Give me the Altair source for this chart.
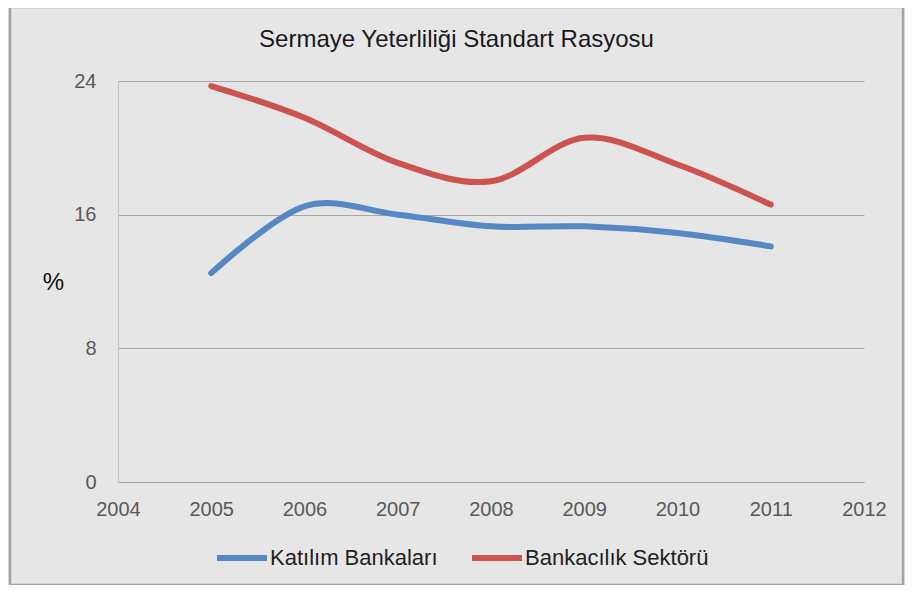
import altair as alt
import pandas as pd

# ---- data ----
years = [2005, 2006, 2007, 2008, 2009, 2010, 2011]
katilim_bankalari = [12.5, 16.5, 16.0, 15.3, 15.3, 14.9, 14.1]
bankacilik_sektoru = [23.7, 21.8, 19.1, 18.0, 20.6, 19.0, 16.6]
series_names = ["Katılım Bankaları", "Bankacılık Sektörü"]
series_colors = ["#5688c4", "#cc5350"]
x_ticks = [2004, 2005, 2006, 2007, 2008, 2009, 2010, 2011, 2012]
y_ticks = [0, 8, 16, 24]
title_text = "Sermaye Yeterliliği Standart Rasyosu"
y_title = "%"

rows = []
for name, vals in zip(series_names, [katilim_bankalari, bankacilik_sektoru]):
    for yr, v in zip(years, vals):
        rows.append({"yil": yr, "deger": v, "seri": name})
df = pd.DataFrame(rows)

W, H = 746, 401
FONT = "Liberation Sans"

frame = alt.Chart(pd.DataFrame({"k": [0]})).mark_rect(
    fill="transparent", stroke="#a3a3a3", strokeWidth=2.5
).encode(
    x=alt.value(-108), x2=alt.value(785), y=alt.value(-74), y2=alt.value(504)
)

lines = alt.Chart(df).mark_line(
    strokeWidth=6, interpolate="cardinal", strokeCap="round"
).encode(
    x=alt.X(
        "yil:Q",
        scale=alt.Scale(domain=[2004, 2012], nice=False, zero=False),
        axis=alt.Axis(
            values=x_ticks, format="d", title=None, grid=False, ticks=False,
            tickSize=0, labelPadding=17, labelFlush=False, labelOverlap=False,
            domainColor="#a6a6a6", labelFontSize=20, labelColor="#595959",
            labelFont=FONT,
        ),
    ),
    y=alt.Y(
        "deger:Q",
        scale=alt.Scale(domain=[0, 24], nice=False),
        axis=alt.Axis(
            values=y_ticks, title=y_title, titleAngle=0, titleX=-65, titleY=201,
            titleAlign="center", titleBaseline="middle", titleFontSize=24,
            titleFontWeight="normal", titleColor="#111111", titleFont=FONT,
            grid=True, gridColor="#a6a6a6", ticks=False, tickSize=0,
            labelPadding=22, labelOverlap=False, domainColor="#c4c4c4",
            labelFontSize=20, labelColor="#595959", labelFont=FONT,
        ),
    ),
    color=alt.Color(
        "seri:N",
        scale=alt.Scale(domain=series_names, range=series_colors),
        legend=alt.Legend(
            title=None, orient="none", legendX=96, legendY=449,
            direction="horizontal", symbolType="stroke", symbolSize=2500,
            symbolStrokeWidth=6, labelFontSize=22, labelFont=FONT,
            labelColor="#222222", labelOffset=0, labelLimit=400,
            columnPadding=22, padding=0,
        ),
    ),
)

chart = alt.layer(frame, lines).properties(
    width=W,
    height=H,
    autosize="none",
    padding={"left": 110, "top": 73, "right": 41, "bottom": 103},
    background="#e6e6e6",
    title=alt.TitleParams(
        text=title_text, anchor="middle", frame="bounds", offset=-65,
        baseline="alphabetic", fontSize=24, font=FONT, fontWeight="normal",
        color="#1a1a1a",
    ),
).configure_view(stroke="transparent", fill="transparent")

chart.save("out.html", embed_options={"renderer": "svg", "actions": False})
